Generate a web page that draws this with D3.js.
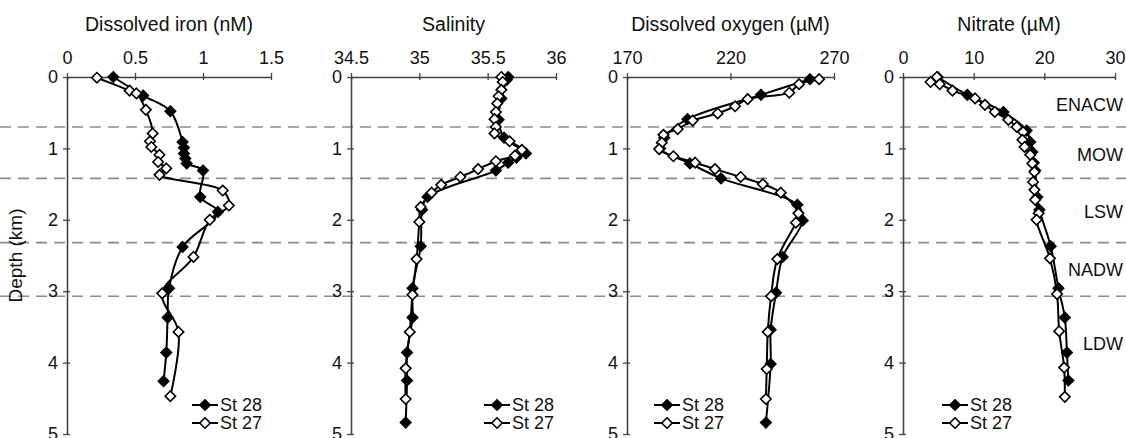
<!DOCTYPE html>
<html>
<head>
<meta charset="utf-8">
<script src="https://cdn.jsdelivr.net/npm/d3@7"></script>
<style>
  body { margin: 0; background: #fff; }
  text { font-family: "Liberation Sans", Arial, sans-serif; fill: #111; }
</style>
</head>
<body>
<div id="chart"></div>
<script>
// data --------------------------------------------------------------------------------
const ironDepth28 = [0.0, 0.26, 0.48, 0.91, 0.99, 1.07, 1.14, 1.21, 1.31, 1.68, 1.89, 2.38, 2.96, 3.37, 3.86, 4.26];
const iron28 = [0.34, 0.56, 0.76, 0.85, 0.86, 0.86, 0.87, 0.88, 1.0, 0.98, 1.11, 0.85, 0.75, 0.74, 0.73, 0.71];
const ironDepth27 = [0.01, 0.19, 0.23, 0.46, 0.79, 0.90, 0.98, 1.09, 1.19, 1.28, 1.37, 1.59, 1.80, 2.0, 2.52, 3.03, 3.57, 4.47];
const iron27 = [0.22, 0.46, 0.51, 0.58, 0.63, 0.61, 0.62, 0.68, 0.67, 0.73, 0.68, 1.145, 1.19, 1.05, 0.93, 0.70, 0.82, 0.76];

const salDepth28 = [0.0, 0.04, 0.3, 0.6, 0.85, 1.07, 1.13, 1.20, 1.31, 1.68, 1.86, 2.37, 2.96, 3.37, 3.86, 4.25, 4.84];
const sal28 = [35.65, 35.64, 35.60, 35.58, 35.62, 35.78, 35.71, 35.65, 35.56, 35.06, 35.02, 35.01, 34.95, 34.95, 34.91, 34.91, 34.90];
const salDepth27 = [0.0, 0.07, 0.18, 0.27, 0.37, 0.49, 0.59, 0.70, 0.79, 0.90, 1.02, 1.10, 1.18, 1.29, 1.40, 1.51, 1.62, 1.82, 2.03, 2.55, 3.05, 3.57, 4.08, 4.51];
const sal27 = [35.60, 35.61, 35.60, 35.58, 35.57, 35.56, 35.55, 35.56, 35.55, 35.66, 35.75, 35.70, 35.56, 35.43, 35.30, 35.16, 35.09, 35.01, 35.00, 34.98, 34.95, 34.93, 34.90, 34.90];

const oxyDepth28 = [0.03, 0.25, 0.59, 0.85, 1.0, 1.21, 1.42, 1.79, 2.01, 2.52, 3.02, 3.54, 4.02, 4.84];
const oxy28 = [258.4, 234.7, 199.2, 188.0, 186.0, 200.4, 215.4, 252.3, 254.9, 245.2, 242.0, 239.4, 239.4, 237.1];
const oxyDepth27 = [0.03, 0.10, 0.22, 0.31, 0.41, 0.51, 0.61, 0.73, 0.81, 0.92, 1.01, 1.11, 1.20, 1.29, 1.40, 1.50, 1.62, 1.91, 2.04, 2.55, 3.07, 3.57, 4.09, 4.51];
const oxy27 = [262.8, 253.1, 248.4, 228.3, 222.2, 213.8, 201.7, 194.5, 187.6, 186.8, 185.5, 192.4, 202.9, 212.5, 224.9, 235.6, 244.3, 252.8, 251.6, 242.6, 239.6, 238.0, 237.5, 237.1];

const nitDepth28 = [0.0, 0.25, 0.49, 0.75, 0.91, 1.05, 1.2, 1.31, 1.68, 1.86, 2.37, 2.96, 3.37, 3.86, 4.25];
const nit28 = [4.9, 9.1, 14.2, 17.5, 18.0, 18.3, 18.5, 18.7, 19.0, 19.3, 20.9, 22.0, 22.9, 23.2, 23.4];
const nitDepth27 = [0.0, 0.07, 0.10, 0.19, 0.30, 0.39, 0.49, 0.60, 0.70, 0.77, 0.88, 0.98, 1.09, 1.21, 1.33, 1.47, 1.58, 1.72, 1.91, 2.0, 2.54, 3.04, 3.56, 4.07, 4.48];
const nit27 = [4.8, 3.9, 5.2, 7.0, 10.2, 11.6, 13.0, 14.9, 16.1, 17.0, 16.9, 17.2, 18.0, 18.3, 18.6, 18.4, 18.6, 18.7, 19.2, 18.9, 20.8, 21.8, 22.1, 22.8, 22.9];

const titles = ["Dissolved iron (nM)", "Salinity", "Dissolved oxygen (\u00b5M)", "Nitrate (\u00b5M)"];
const xTicks = [[0, 0.5, 1, 1.5], [34.5, 35, 35.5, 36], [170, 220, 270], [0, 10, 20, 30]];
const depthTicks = [0, 1, 2, 3, 4, 5];
const boundaries = [0.70, 1.42, 2.32, 3.07];
const waterMasses = ["ENACW", "MOW", "LSW", "NADW", "LDW"];
const waterMassDepth = [0.39, 1.08, 1.89, 2.70, 3.73];
const stations = ["St 28", "St 27"];

// layout ------------------------------------------------------------------------------
const svgWidth = 1126;
const svgHeight = 438;
const plotTop = 77;
const plotBottom = 434;

// left / right pixel of each panel's value axis, and legend offset from the left axis
const panelBox = [
    {x0: 67, x1: 271, legend: 125},
    {x0: 351, x1: 556, legend: 133},
    {x0: 627, x1: 834, legend: 27},
    {x0: 903, x1: 1115, legend: 39}
];

const panels = [
    {s28: [ironDepth28, iron28], s27: [ironDepth27, iron27]},
    {s28: [salDepth28, sal28], s27: [salDepth27, sal27]},
    {s28: [oxyDepth28, oxy28], s27: [oxyDepth27, oxy27]},
    {s28: [nitDepth28, nit28], s27: [nitDepth27, nit27]}
];

const svg = d3.select("#chart").append("svg")
    .attr("width", svgWidth)
    .attr("height", svgHeight);

const y = d3.scaleLinear().domain([0, 5]).range([plotTop, plotBottom]);

const diamond = r => `M0,${-r}L${r},0L0,${r}L${-r},0Z`;

// dashed water-mass boundaries across the whole figure
svg.append("g").selectAll("line")
    .data(boundaries)
    .enter()
    .append("line")
    .attr("x1", 0)
    .attr("x2", svgWidth)
    .attr("y1", d => y(d))
    .attr("y2", d => y(d))
    .attr("stroke", "#8c8c8c")
    .attr("stroke-width", 1.6)
    .attr("stroke-dasharray", "11,7");

// water mass names on the right
svg.append("g").selectAll("text")
    .data(waterMasses)
    .enter()
    .append("text")
    .attr("x", 1123)
    .attr("y", (d, i) => y(waterMassDepth[i]))
    .attr("dy", "0.36em")
    .attr("text-anchor", "end")
    .style("font-size", "18px")
    .text(d => d);

// y axis title
svg.append("text")
    .attr("transform", `translate(22, ${y(2.5)}) rotate(-90)`)
    .attr("text-anchor", "middle")
    .style("font-size", "19px")
    .text("Depth (km)");

// panels -------------------------------------------------------------------------------
panels.forEach((p, i) => {
    const box = panelBox[i];
    const ticks = xTicks[i];
    const x = d3.scaleLinear()
        .domain([ticks[0], ticks[ticks.length - 1]])
        .range([box.x0, box.x1]);

    const g = svg.append("g");

    // title
    g.append("text")
        .attr("x", (box.x0 + box.x1) / 2)
        .attr("y", 31)
        .attr("text-anchor", "middle")
        .style("font-size", "19.5px")
        .text(titles[i]);

    // top axis
    const xAxisG = g.append("g")
        .attr("transform", `translate(0, ${plotTop})`)
        .call(d3.axisTop(x).tickValues(ticks).tickFormat(d3.format("~g")).tickSize(4).tickSizeOuter(0).tickPadding(9));

    // left depth axis
    const yAxisG = g.append("g")
        .attr("transform", `translate(${box.x0}, 0)`)
        .call(d3.axisLeft(y).tickValues(depthTicks).tickFormat(d3.format("d")).tickSize(4).tickSizeOuter(0).tickPadding(5));

    [xAxisG, yAxisG].forEach(a => {
        a.select(".domain").attr("stroke", "#444").attr("stroke-width", 1.6);
        a.selectAll(".tick line").attr("stroke", "#444").attr("stroke-width", 1.3);
        a.selectAll(".tick text")
            .style("font-size", "18px")
            .style("font-family", "'Liberation Sans', Arial, sans-serif")
            .attr("fill", "#111");
    });
    // ticks cross the axis line
    xAxisG.selectAll(".tick line").attr("y1", 3);
    yAxisG.selectAll(".tick line").attr("x1", 3);

    const line = d3.line()
        .x(d => x(d[1]))
        .y(d => y(d[0]))
        .curve(d3.curveCatmullRom.alpha(0.5));

    const series = [
        {pts: d3.zip(p.s28[0], p.s28[1]), fill: "#000"},
        {pts: d3.zip(p.s27[0], p.s27[1]), fill: "#fff"}
    ];

    series.forEach(s => {
        g.append("path")
            .attr("d", line(s.pts))
            .attr("fill", "none")
            .attr("stroke", "#000")
            .attr("stroke-width", 2);
    });

    series.forEach(s => {
        g.append("g").selectAll("path")
            .data(s.pts)
            .enter()
            .append("path")
            .attr("d", diamond(5.2))
            .attr("transform", d => `translate(${x(d[1])}, ${y(d[0])})`)
            .attr("fill", s.fill)
            .attr("stroke", "#000")
            .attr("stroke-width", 1.6);
    });

    // legend
    const lg = g.append("g")
        .attr("transform", `translate(${box.x0 + box.legend}, 405)`);

    stations.forEach((name, k) => {
        const row = lg.append("g").attr("transform", `translate(0, ${k * 18})`);
        row.append("line")
            .attr("x1", 0)
            .attr("x2", 26)
            .attr("stroke", "#000")
            .attr("stroke-width", 2);
        row.append("path")
            .attr("d", diamond(5.2))
            .attr("transform", "translate(13, 0)")
            .attr("fill", k === 0 ? "#000" : "#fff")
            .attr("stroke", "#000")
            .attr("stroke-width", 1.6);
        row.append("text")
            .attr("x", 28)
            .attr("dy", "0.36em")
            .style("font-size", "18px")
            .text(name);
    });
});
</script>
</body>
</html>
